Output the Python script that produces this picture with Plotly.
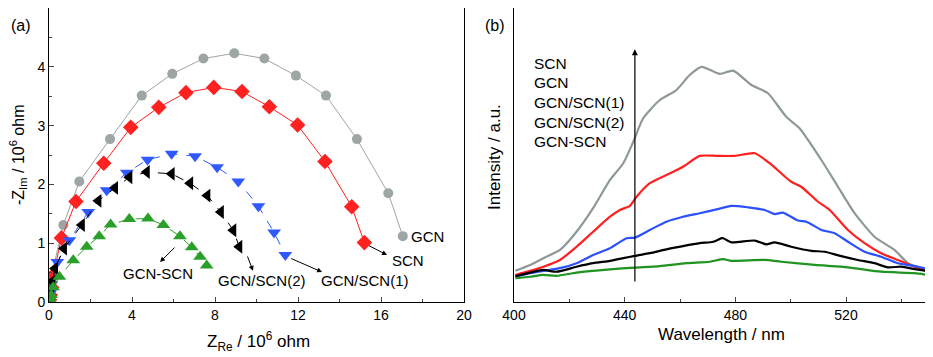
import plotly.graph_objects as go

# ---- panel (a): Nyquist plots, Z_Re / Z_Im in 10^6 ohm ----
gcn_x = [0.02, 0.06, 0.12, 0.69, 1.46, 2.94, 4.47, 5.94, 7.44, 8.93, 10.38, 11.90, 13.35, 14.84, 16.35, 17.05]
gcn_y = [0.05, 0.20, 0.45, 1.31, 2.05, 2.77, 3.51, 3.88, 4.14, 4.23, 4.14, 3.85, 3.51, 2.77, 1.85, 1.12]

scn_x = [0.02, 0.06, 0.12, 0.20, 0.60, 1.30, 2.64, 3.94, 5.29, 6.60, 7.94, 9.30, 10.62, 11.98, 13.30, 14.59, 15.20]
scn_y = [0.04, 0.12, 0.25, 0.45, 1.09, 1.71, 2.36, 2.97, 3.31, 3.56, 3.65, 3.58, 3.32, 3.01, 2.39, 1.62, 1.01]

gs1_x = [0.02, 0.06, 0.12, 0.40, 0.98, 1.89, 2.78, 3.75, 4.75, 5.91, 7.04, 8.10, 9.12, 10.09, 10.85, 11.39]
gs1_y = [0.05, 0.15, 0.30, 0.68, 1.05, 1.53, 1.90, 2.20, 2.42, 2.52, 2.48, 2.29, 2.05, 1.63, 1.18, 0.80]

gs2_x = [0.02, 0.05, 0.10, 0.16, 0.29, 0.72, 1.58, 2.38, 3.18, 3.87, 4.71, 5.91, 6.80, 7.63, 8.28, 8.88, 9.17]
gs2_y = [0.05, 0.12, 0.22, 0.35, 0.57, 0.91, 1.31, 1.72, 1.94, 2.12, 2.21, 2.18, 2.02, 1.81, 1.53, 1.22, 0.94]

gsc_x = [0.02, 0.05, 0.10, 0.20, 0.50, 1.17, 1.82, 2.42, 2.97, 3.87, 4.77, 5.51, 6.31, 6.88, 7.28, 7.60]
gsc_y = [0.02, 0.06, 0.12, 0.25, 0.43, 0.71, 0.94, 1.12, 1.32, 1.41, 1.42, 1.31, 1.12, 0.93, 0.77, 0.62]

# ---- panel (b): PL spectra ----
gray_wl = [400.5, 405.8, 410.6, 416.6, 422.6, 428.6, 434.7, 439.5, 443.1, 446.7, 452.7, 458.7, 463.5, 467.8,
           474.4, 479.2, 485.8, 491.8, 498.4, 503.2, 511.1, 517.1, 523.1, 530.3, 537.5, 542.4, 546.0, 549.6]
gray_i = [10.6, 12.6, 14.9, 17.7, 23.9, 31.9, 41.5, 47.2, 54.5, 62.5, 68.7, 72.1, 77.2, 80.0,
          77.6, 78.7, 73.8, 71.0, 63.0, 59.1, 48.3, 39.2, 30.2, 22.2, 17.7, 13.2, 11.8, 10.9]

red_wl = [400.5, 405.8, 410.6, 416.6, 422.6, 428.6, 434.7, 438.3, 441.9, 444.3, 449.1, 455.1, 461.1, 467.1,
          473.2, 479.8, 487.0, 492.4, 500.2, 503.8, 509.9, 514.1, 520.7, 526.7, 532.7, 538.7, 544.8, 549.6]
red_i = [9.2, 10.6, 12.0, 14.3, 18.8, 23.9, 29.0, 31.3, 32.7, 35.8, 40.4, 43.2, 46.0, 49.7,
         49.7, 49.7, 50.6, 47.2, 40.9, 39.2, 34.1, 31.3, 24.5, 20.0, 16.6, 14.3, 12.0, 10.3]

blue_wl = [400.5, 405.8, 410.6, 416.6, 422.6, 428.6, 434.7, 440.7, 443.7, 449.1, 455.1, 461.1, 467.1, 473.2,
           478.6, 484.6, 490.6, 494.2, 497.2, 502.6, 505.7, 511.1, 515.9, 520.7, 526.7, 532.7, 538.7, 544.8, 549.6]
blue_i = [8.6, 9.8, 10.6, 11.5, 13.2, 16.0, 18.3, 21.7, 21.9, 24.5, 27.3, 29.0, 30.2, 31.5,
          32.7, 32.2, 31.3, 29.9, 30.4, 27.7, 27.3, 24.5, 23.4, 20.5, 17.1, 15.4, 13.2, 12.2, 11.2]

black_wl = [400.5, 405.8, 410.6, 415.4, 422.6, 428.6, 434.7, 439.5, 443.7, 449.1, 455.1, 461.1, 467.1, 472.0,
            475.0, 475.6, 478.6, 487.0, 491.2, 494.2, 500.2, 507.5, 512.3, 518.3, 524.3, 530.3, 535.1, 539.9,
            544.8, 549.6]
black_i = [8.8, 10.0, 10.9, 10.3, 12.0, 13.2, 14.0, 14.9, 15.7, 16.6, 17.9, 19.0, 20.0, 20.5,
           21.7, 21.7, 20.3, 20.9, 19.6, 20.3, 18.8, 17.4, 17.1, 15.6, 14.3, 13.2, 11.8, 12.0,
           11.2, 10.5]

green_wl = [400.5, 405.8, 410.6, 415.4, 422.6, 434.7, 443.7, 452.7, 462.3, 470.8, 475.6, 478.6, 490.6,
            496.6, 508.7, 520.7, 532.7, 544.8, 549.6]
green_i = [8.1, 8.6, 9.2, 8.9, 10.0, 11.1, 11.7, 12.2, 13.2, 13.7, 14.6, 14.0, 14.3,
           13.7, 12.6, 11.8, 10.3, 9.8, 9.2]

legend_b = ["SCN", "GCN", "GCN/SCN(1)", "GCN/SCN(2)", "GCN-SCN"]

FONT = "Liberation Sans, Arial, sans-serif"
# the page body has an 8px margin, so the figure is drawn 8px in from the window corner
W, H, OFF = 925, 349, 8


def px(x):
    return (x - OFF) / W


def py(y):
    return 1 - (y - OFF) / H


fig = go.Figure()

# panel (a) series
series_a = [
    (gcn_x, gcn_y, "#9ea5a5", "circle", 10, "solid"),
    (scn_x, scn_y, "#ff2020", "diamond", 12, "solid"),
    (gs1_x, gs1_y, "#3058ff", "triangle-down", 12, "dash"),
    (gs2_x, gs2_y, "#000000", "triangle-left", 12, "dash"),
    (gsc_x, gsc_y, "#2aa02a", "triangle-up", 12, "dash"),
]
for xs, ys, col, sym, sz, dash in series_a:
    fig.add_trace(go.Scatter(
        x=xs, y=ys, mode="lines+markers", xaxis="x", yaxis="y",
        line=dict(color=col, width=1, dash=dash),
        marker=dict(symbol=sym, size=sz, color=col, line=dict(width=0)),
        showlegend=False))

# panel (b) spectra
series_b = [
    (gray_wl, gray_i, "#8e9898"),
    (red_wl, red_i, "#ff1f1f"),
    (blue_wl, blue_i, "#2a50ff"),
    (black_wl, black_i, "#000000"),
    (green_wl, green_i, "#1f941f"),
]
for xs, ys, col in series_b:
    fig.add_trace(go.Scatter(
        x=xs, y=ys, mode="lines", xaxis="x2", yaxis="y2",
        line=dict(color=col, width=2.2, shape="spline", smoothing=0.6),
        showlegend=False))

axis_common = dict(showline=True, linecolor="black", linewidth=1, mirror=True,
                   showgrid=False, zeroline=False, automargin=False,
                   tickfont=dict(family=FONT, size=14, color="black"))

fig.update_layout(
    width=W, height=H,
    margin=dict(l=0, r=0, t=0, b=0, autoexpand=False),
    paper_bgcolor="white", plot_bgcolor="white",
    font=dict(family=FONT, color="black"),
    xaxis=dict(domain=[px(49), px(464)], range=[0, 20], anchor="y",
               tickmode="linear", tick0=0, dtick=4, ticks="inside", ticklen=5,
               minor=dict(ticks="inside", dtick=2, ticklen=3), **axis_common),
    yaxis=dict(domain=[py(302), py(8)], range=[0, 5], anchor="x",
               tickmode="linear", tick0=0, dtick=1, ticks="inside", ticklen=5,
               minor=dict(ticks="inside", dtick=0.5, ticklen=3), **axis_common),
    xaxis2=dict(domain=[px(514), px(929)], range=[400, 550], anchor="y2",
                tickmode="linear", tick0=400, dtick=40, ticks="inside", ticklen=5,
                minor=dict(ticks="inside", dtick=20, ticklen=3), **axis_common),
    yaxis2=dict(domain=[py(302), py(8)], range=[0, 100], anchor="x2",
                showticklabels=False, ticks="", **axis_common),
)


def label(text, x, y, size, angle=0, xanchor="center"):
    return dict(text=text, xref="paper", yref="paper", x=px(x), y=py(y),
                xanchor=xanchor, yanchor="middle", textangle=angle,
                showarrow=False, font=dict(size=size))


ann = []
# axis titles
ann.append(label("-Z<sub>Im</sub> / 10<sup>6</sup> ohm", 18, 155, 16, angle=-90))
ann.append(label("Z<sub>Re</sub> / 10<sup>6</sup> ohm", 258, 341, 17))
ann.append(label("Intensity / a.u.", 494, 157, 17, angle=-90))
ann.append(label("Wavelength / nm", 721, 334, 17))
# panel labels
ann.append(label("(a)", 21, 25, 16))
ann.append(label("(b)", 495, 25, 16))

# panel (a) sample labels with arrows
arrows_a = [
    # label, text x, text y, arrow end x, end y, arrow start x, start y
    ("GCN-SCN", 5.25, 0.49, 5.35, 0.68, 6.12, 0.95),
    ("GCN/SCN(2)", 10.27, 0.37, 9.83, 0.53, 9.54, 0.80),
    ("GCN/SCN(1)", 15.23, 0.37, 13.16, 0.51, 11.6, 0.75),
    ("SCN", 17.3, 0.71, 16.29, 0.80, 15.35, 0.97),
]
for name, tx, ty, ex, ey, sx, sy in arrows_a:
    ann.append(dict(text=name, x=tx, y=ty, xref="x", yref="y", showarrow=False,
                    xanchor="center", yanchor="middle", font=dict(size=15)))
    ann.append(dict(text="", x=ex, y=ey, ax=sx, ay=sy, xref="x", yref="y",
                    axref="x", ayref="y", showarrow=True, arrowhead=2,
                    arrowsize=1, arrowwidth=1, arrowcolor="black"))
ann.append(dict(text="GCN", x=18.25, y=1.12, xref="x", yref="y", showarrow=False,
                xanchor="center", yanchor="middle", font=dict(size=15)))

# panel (b) sample list and arrow
for i, name in enumerate(legend_b):
    ann.append(label(name, 532, 63 + 19.7 * i, 15.5, xanchor="left"))
ann.append(dict(text="", x=443.7, y=86, ax=443.7, ay=6.5, xref="x2", yref="y2",
                axref="x2", ayref="y2", showarrow=True, arrowhead=2, arrowsize=1,
                arrowwidth=1.2, arrowcolor="black"))

fig.update_layout(annotations=ann)

fig.write_html("out.html")
